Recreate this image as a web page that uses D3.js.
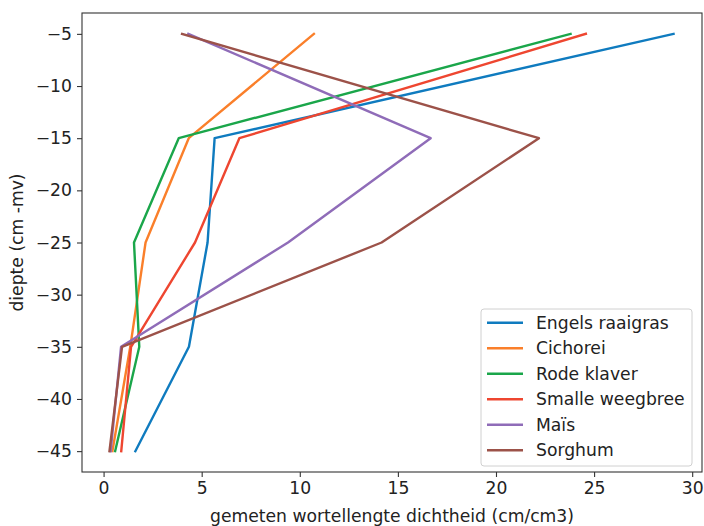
<!DOCTYPE html>
<html><head><meta charset="utf-8">
<script src="https://cdn.jsdelivr.net/npm/d3@7"></script>
<style>body{margin:0;background:#fff}svg{display:block}text{font-family:"DejaVu Sans",sans-serif;fill:#222}</style>
</head><body>
<script>
const depths = [-5, -15, -25, -35, -45];
const seriesNames = ["Engels raaigras", "Cichorei", "Rode klaver", "Smalle weegbree", "Maïs", "Sorghum"];
const engelsRaaigras = [29.05, 5.66, 5.3, 4.35, 1.62];
const cichorei = [10.72, 4.34, 2.14, 1.36, 0.45];
const rodeKlaver = [23.8, 3.83, 1.55, 1.82, 0.59];
const smalleWeegbree = [24.58, 6.92, 4.66, 1.4, 0.9];
const mais = [4.32, 16.67, 9.4, 0.89, 0.36];
const sorghum = [4.0, 22.19, 14.17, 0.94, 0.3];
const seriesValues = [engelsRaaigras, cichorei, rodeKlaver, smalleWeegbree, mais, sorghum];
const colors = ["#0f7bbf", "#fa7f2a", "#1aa64a", "#ee4630", "#8f6cb8", "#9c5249"];
const xTicks = [0, 5, 10, 15, 20, 25, 30];
const yTicks = [-5, -10, -15, -20, -25, -30, -35, -40, -45];
const xLabel = "gemeten wortellengte dichtheid (cm/cm3)";
const yLabel = "diepte (cm -mv)";

const W = 704, H = 526;
const FS = 17.2;
const m = {l: 82, t: 13, r: 702, b: 472};
const svg = d3.select("body").append("svg").attr("width", W).attr("height", H);
const x = d3.scaleLinear().domain([-1.1, 30.5]).range([m.l, m.r]);
const y = d3.scaleLinear().domain([-47, -3]).range([m.b, m.t]);
const fmt = d => d < 0 ? "\u2212" + Math.abs(d) : String(d);

// lines
const line = d3.line().x(d => x(d[0])).y(d => y(d[1]));
const g = svg.append("g");
seriesValues.forEach((vals, i) => {
  g.append("path").datum(vals.map((v, j) => [v, depths[j]]))
    .attr("d", line).attr("fill", "none").attr("stroke", colors[i])
    .attr("stroke-width", 2.4).attr("stroke-linejoin", "round").attr("stroke-linecap", "square");
});

// axes
const xAxis = svg.append("g").attr("transform", `translate(0,${m.b})`)
  .call(d3.axisBottom(x).tickValues(xTicks).tickFormat(fmt).tickSize(5).tickPadding(5));
const yAxis = svg.append("g").attr("transform", `translate(${m.l},0)`)
  .call(d3.axisLeft(y).tickValues(yTicks).tickFormat(fmt).tickSize(5).tickPadding(5));
[xAxis, yAxis].forEach(a => {
  a.select(".domain").remove();
  a.selectAll("line").attr("stroke", "#333").attr("stroke-width", 1.1);
  a.selectAll("text").attr("font-size", FS).attr("fill", "#222").style("font-family", "DejaVu Sans");
});
svg.append("rect").attr("x", m.l).attr("y", m.t).attr("width", m.r - m.l).attr("height", m.b - m.t)
  .attr("fill", "none").attr("stroke", "#333").attr("stroke-width", 1.1);

svg.append("text").attr("x", (m.l + m.r) / 2).attr("y", 522).attr("text-anchor", "middle")
  .attr("font-size", FS).text(xLabel);
svg.append("text").attr("transform", `translate(23,${(m.t + m.b) / 2}) rotate(-90)`)
  .attr("text-anchor", "middle").attr("font-size", FS).text(yLabel);

// legend
const lg = svg.append("g");
lg.append("rect").attr("x", 481).attr("y", 309).attr("width", 211).attr("height", 157).attr("rx", 3)
  .attr("fill", "#fff").attr("fill-opacity", 0.8).attr("stroke", "#d0d0d0").attr("stroke-width", 1);
seriesNames.forEach((name, i) => {
  const yy = 322.7 + i * 25.5;
  lg.append("line").attr("x1", 487).attr("x2", 523).attr("y1", yy).attr("y2", yy)
    .attr("stroke", colors[i]).attr("stroke-width", 2.4);
  lg.append("text").attr("x", 536).attr("y", yy).attr("dy", "0.35em").attr("font-size", FS).text(name);
});
</script>
</body></html>
